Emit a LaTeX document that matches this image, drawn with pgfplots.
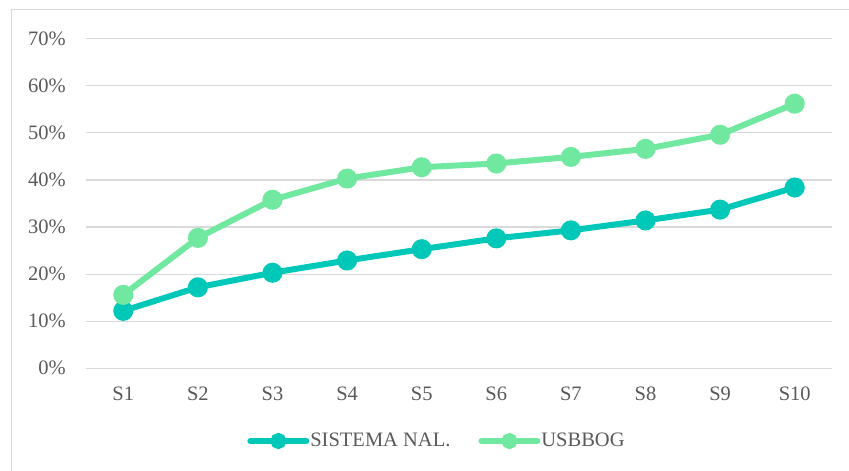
\documentclass[border=0pt]{standalone}
\usepackage{fontspec}
\setmainfont{Liberation Serif}
\usepackage{pgfplots}
\pgfplotsset{compat=1.18}

\definecolor{sisnal}{RGB}{0,200,185}
\definecolor{usbbog}{RGB}{112,232,160}
\definecolor{gridgray}{RGB}{217,217,217}
\definecolor{labelgray}{RGB}{89,89,89}

\begin{document}
\fontsize{20.5bp}{24bp}\selectfont
\begin{tikzpicture}
\useasboundingbox (0,0) rectangle (849bp,-471bp);
% chart frame (cut off at right and bottom in the reference)
\draw[gridgray, line width=1.5bp] (11.5bp,-471bp) -- (11.5bp,-9.5bp) -- (849bp,-9.5bp);
\begin{axis}[
    at={(86bp,-368.3bp)}, anchor=south west,
    scale only axis,
    width=746bp, height=329.6bp,
    xmin=0.5, xmax=10.5,
    ymin=0, ymax=70,
    xtick={1,...,10},
    xticklabels={S1,S2,S3,S4,S5,S6,S7,S8,S9,S10},
    ytick={0,10,...,70},
    yticklabel={\pgfmathprintnumber{\tick}\%},
    /pgf/number format/assume math mode=true,
    ymajorgrids,
    grid style={gridgray, line width=1.2bp},
    axis line style={draw=none},
    major tick length=0pt,
    tick label style={font=\fontsize{20.5bp}{24bp}\selectfont, text=labelgray},
    yticklabel style={anchor=east, inner sep=0pt, xshift=-20bp},
    xticklabel style={anchor=north, inner sep=0pt, yshift=-18bp},
    clip=false,
    legend columns=2,
    legend style={
        at={(0.216,-0.2206)}, anchor=west,
        draw=none, fill=none, inner sep=0pt,
        font=\fontsize{20.5bp}{24bp}\selectfont, text=labelgray,
        nodes={inner sep=1bp},
        /tikz/every even column/.append style={column sep=27bp},
    },
    legend image code/.code={
        \draw[line width=6bp, line cap=round] (0bp,0bp) -- (56bp,0bp);
        \fill (28bp,0bp) circle (5bp);
    },
]
\addplot[sisnal, line width=6bp, mark=*, mark size=7bp,
    mark options={draw=none, fill=sisnal}]
coordinates {
    (1,12.2) (2,17.2) (3,20.3) (4,22.9) (5,25.3)
    (6,27.6) (7,29.3) (8,31.4) (9,33.7) (10,38.4)
};
\addlegendentry{SISTEMA NAL.}
\addplot[usbbog, line width=6bp, mark=*, mark size=7bp,
    mark options={draw=none, fill=usbbog}]
coordinates {
    (1,15.6) (2,27.7) (3,35.8) (4,40.3) (5,42.7)
    (6,43.5) (7,44.9) (8,46.6) (9,49.6) (10,56.2)
};
\addlegendentry{USBBOG}
\end{axis}
\end{tikzpicture}
\end{document}
